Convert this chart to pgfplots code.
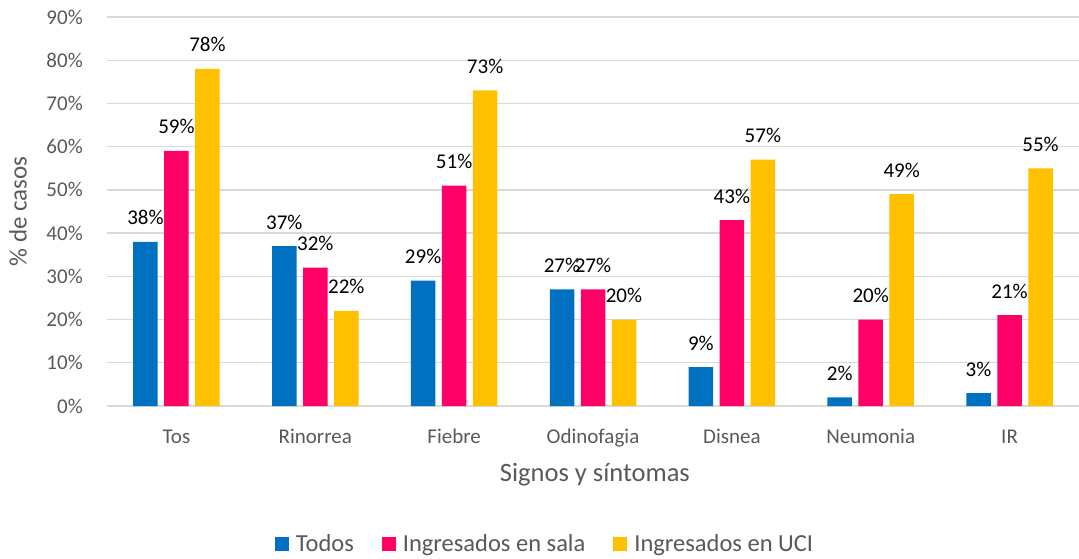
\documentclass[border=0pt]{standalone}
\usepackage{fontspec}
\setmainfont{Carlito}
\usepackage{pgfplots}
\pgfplotsset{compat=1.18}

\definecolor{cTodos}{HTML}{0070C0}
\definecolor{cSala}{HTML}{FF0066}
\definecolor{cUCI}{HTML}{FFC000}
\definecolor{gridc}{HTML}{D9D9D9}
\definecolor{txt}{HTML}{595959}

\begin{document}
\begin{tikzpicture}
  \useasboundingbox (-107pt,-152pt) rectangle (972pt,406pt);
  \begin{axis}[
      at={(0pt,0pt)}, anchor=south west,
      scale only axis,
      width=972pt, height=389pt,
      ybar=6.5pt,
      bar width=24.5pt,
      xmin=-0.5, xmax=6.5,
      ymin=0, ymax=90,
      xtick={0,1,2,3,4,5,6},
      xticklabels={Tos,Rinorrea,Fiebre,Odinofagia,Disnea,Neumonia,IR},
      ytick={0,10,...,90},
      /pgf/number format/assume math mode=true,
      yticklabel={\pgfmathprintnumber{\tick}\%},
      axis line style={draw=none},
      major tick length=0pt,
      ymajorgrids,
      major grid style={gridc, line width=1.3pt},
      tick label style={font=\fontsize{21}{25}\selectfont, text=txt},
      yticklabel style={anchor=east, inner sep=0pt, xshift=-24pt},
      xticklabel style={anchor=base, inner sep=0pt, yshift=-37pt},
      xlabel={Signos y síntomas},
      ylabel={\% de casos},
      xlabel style={at={(axis description cs:0.502,0)}, anchor=base, yshift=-75pt,
                    font=\fontsize{26.5}{31}\selectfont, text=txt},
      ylabel style={at={(axis description cs:-0.0916,0.5)}, anchor=center,
                    font=\fontsize{25}{30}\selectfont, text=txt},
      nodes near coords={\pgfmathprintnumber{\pgfplotspointmeta}\%},
      every node near coord/.append style={anchor=base, yshift=17pt,
                    font=\fontsize{21}{25}\selectfont, text=black},
      legend columns=-1,
      legend style={at={(axis description cs:0.4506,-0.3548)}, anchor=center,
                    draw=none, font=\fontsize{24.5}{29}\selectfont, text=txt,
                    /tikz/every odd column/.append style={column sep=5pt},
                    /tikz/every even column/.append style={column sep=26pt}},
      legend image code/.code={\fill[#1] (0pt,-7pt) rectangle (14pt,7pt);},
    ]
    \addplot[fill=cTodos, draw=none] coordinates {
        (0,38) (1,37) (2,29) (3,27) (4,9) (5,2) (6,3)};
    \addplot[fill=cSala, draw=none] coordinates {
        (0,59) (1,32) (2,51) (3,27) (4,43) (5,20) (6,21)};
    \addplot[fill=cUCI, draw=none] coordinates {
        (0,78) (1,22) (2,73) (3,20) (4,57) (5,49) (6,55)};
    \legend{Todos, Ingresados en sala, Ingresados en UCI}
  \end{axis}
\end{tikzpicture}
\end{document}
